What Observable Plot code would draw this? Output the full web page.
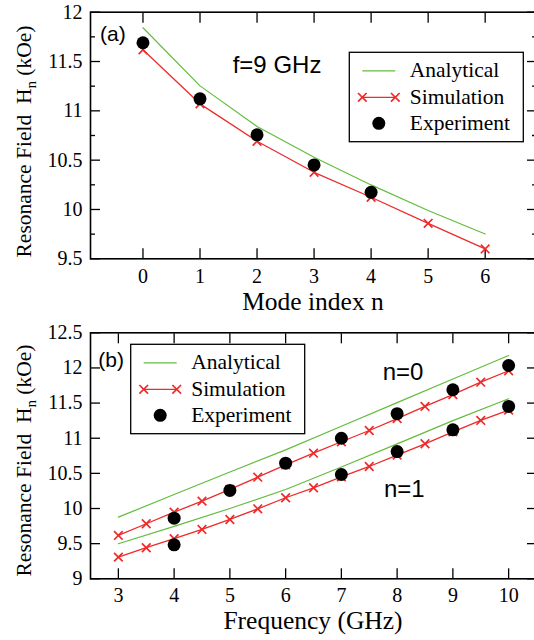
<!DOCTYPE html>
<html>
<head>
<meta charset="utf-8">
<script src="https://cdn.jsdelivr.net/npm/d3@7"></script>
<script src="https://cdn.jsdelivr.net/npm/@observablehq/plot@0.6"></script>
<style>
  html, body { margin: 0; padding: 0; background: #fff; overflow: hidden; }
  #chart { width: 534px; height: 640px; overflow: hidden; }
  #chart svg { display: block; }
</style>
</head>
<body>
<div id="chart"></div>
<script>
// ---- Panel (a): resonance field vs. mode index at f = 9 GHz ----
const modeIndex = [0, 1, 2, 3, 4, 5, 6];
const analyticalA = [11.842, 11.253, 10.841, 10.529, 10.249, 9.989, 9.752];
const simulationA = [11.619, 11.071, 10.692, 10.377, 10.124, 9.860, 9.600];
const experimentModes = [0, 1, 2, 3, 4];
const experimentA = [11.690, 11.122, 10.757, 10.452, 10.174];

// ---- Panel (b): resonance field vs. frequency for n = 0 and n = 1 ----
const freqAnalytical = [3, 4, 5, 6, 7, 8, 9, 10];
const analyticalN0 = [9.877, 10.199, 10.520, 10.834, 11.170, 11.507, 11.842, 12.177];
const analyticalN1 = [9.498, 9.745, 10.000, 10.270, 10.590, 10.920, 11.250, 11.561];
const freqSimulation = [3, 3.5, 4, 4.5, 5, 5.5, 6, 6.5, 7, 7.5, 8, 8.5, 9, 9.5, 10];
const simulationN0 = [9.617, 9.783, 9.948, 10.105, 10.271, 10.446, 10.620, 10.787,
                      10.950, 11.110, 11.280, 11.452, 11.620, 11.797, 11.960];
const simulationN1 = [9.308, 9.442, 9.570, 9.702, 9.844, 9.996, 10.153, 10.295,
                      10.450, 10.598, 10.760, 10.921, 11.090, 11.253, 11.400];
const freqExpN0 = [4, 5, 6, 7, 8, 9, 10];
const experimentN0 = [9.863, 10.257, 10.645, 11.000, 11.350, 11.690, 12.035];
const freqExpN1 = [4, 7, 8, 9, 10];
const experimentN1 = [9.484, 10.484, 10.810, 11.120, 11.452];

// ---- Ticks and text ----
const modeTicks = [0, 1, 2, 3, 4, 5, 6];
const fieldTicksA = [9.5, 10, 10.5, 11, 11.5, 12];
const fieldMinorA = [9.75, 10.25, 10.75, 11.25, 11.75];
const freqTicks = [3, 4, 5, 6, 7, 8, 9, 10];
const fieldTicksB = [9, 9.5, 10, 10.5, 11, 11.5, 12, 12.5];
const seriesNames = ["Analytical", "Simulation", "Experiment"];
const yTitleParts = ["Resonance Field  H", "n", " (kOe)"];
const xTitleA = "Mode index n";
const xTitleB = "Frequency (GHz)";
const panelTags = ["(a)", "(b)"];
const freqNote = "f=9 GHz";
const modeNotes = ["n=0", "n=1"];

const GREEN = "#62bd3c";
const RED = "#ee2a2a";
const SERIF = "'Liberation Serif', 'Times New Roman', serif";
const SANS = "'Liberation Sans', Arial, sans-serif";
const X_R = 4;      // cross marker radius
const DOT_R = 6.5;  // experiment dot radius
const fmt = d3.format("~g");

const rowsA = modeIndex.map((n, i) => ({n, analytical: analyticalA[i], simulation: simulationA[i]}));
const expA = experimentModes.map((n, i) => ({n, field: experimentA[i]}));
const analyticalB = [
  ...freqAnalytical.map((f, i) => ({f, field: analyticalN0[i], mode: 0})),
  ...freqAnalytical.map((f, i) => ({f, field: analyticalN1[i], mode: 1}))
];
const simulationB = [
  ...freqSimulation.map((f, i) => ({f, field: simulationN0[i], mode: 0})),
  ...freqSimulation.map((f, i) => ({f, field: simulationN1[i], mode: 1}))
];
const experimentB = [
  ...freqExpN0.map((f, i) => ({f, field: experimentN0[i]})),
  ...freqExpN1.map((f, i) => ({f, field: experimentN1[i]}))
];

// Inward ticks on all four sides, labels on the left and bottom.
function boxAxes(xTicks, yMajor, yMinor, xPad) {
  const major = -10, minor = -5, sw = 1.3;
  const marks = [
    Plot.axisX(xTicks, {anchor: "bottom", tickSize: major, fill: "none", strokeWidth: sw, label: null}),
    Plot.axisX(xTicks, {anchor: "top", tickSize: major, fill: "none", strokeWidth: sw, label: null}),
    Plot.axisY(yMajor, {anchor: "left", tickSize: major, fill: "none", strokeWidth: sw, label: null}),
    Plot.axisY(yMajor, {anchor: "right", tickSize: major, fill: "none", strokeWidth: sw, label: null}),
    Plot.axisX(xTicks, {anchor: "bottom", tickSize: 0, tickPadding: xPad, tickFormat: fmt, label: null,
                        fontFamily: SERIF, fontSize: 20}),
    Plot.axisY(yMajor, {anchor: "left", tickSize: 0, tickPadding: 8, tickFormat: fmt, label: null,
                        fontFamily: SERIF, fontSize: 20})
  ];
  if (yMinor) {
    marks.push(
      Plot.axisY(yMinor, {anchor: "left", tickSize: minor, fill: "none", strokeWidth: sw, label: null}),
      Plot.axisY(yMinor, {anchor: "right", tickSize: minor, fill: "none", strokeWidth: sw, label: null})
    );
  }
  return marks;
}

// Free-standing text and legend drawn in frame-relative pixels.
function overlay(draw) {
  return (index, scales, values, dims) => {
    const g = d3.create("svg:g");
    draw(g, dims);
    return g.node();
  };
}

function addText(g, x, y, str, font, size, anchor = "start") {
  g.append("text").attr("x", x).attr("y", y)
    .style("font-family", font).style("font-size", size + "px")
    .attr("text-anchor", anchor).attr("fill", "black")
    .style("white-space", "pre").text(str);
}

function yTitle(g, x, y) {
  const t = g.append("text")
    .attr("transform", `translate(${x},${y}) rotate(-90)`)
    .attr("text-anchor", "middle")
    .style("font-family", SERIF).style("font-size", "21.5px").attr("fill", "black")
    .style("white-space", "pre");
  t.append("tspan").text(yTitleParts[0]);
  t.append("tspan").style("font-size", "15px").attr("dy", 5).text(yTitleParts[1]);
  t.append("tspan").attr("dy", -5).text(yTitleParts[2]);
}

function legendBox(g, x0, y0) {
  const w = 174, h = 89.4, rows = [18.5, 45, 71];
  const s1 = x0 + 13, s2 = x0 + 46, tx = x0 + 60.5;
  g.append("rect").attr("x", x0).attr("y", y0).attr("width", w).attr("height", h)
    .attr("fill", "white").attr("stroke", "black").attr("stroke-width", 1.3);
  g.append("line").attr("x1", s1).attr("x2", s2).attr("y1", y0 + rows[0]).attr("y2", y0 + rows[0])
    .attr("stroke", GREEN).attr("stroke-width", 1.2);
  g.append("line").attr("x1", s1).attr("x2", s2).attr("y1", y0 + rows[1]).attr("y2", y0 + rows[1])
    .attr("stroke", RED).attr("stroke-width", 1.3);
  const cross = d3.symbol(d3.symbolTimes, Math.PI * X_R * X_R)();
  for (const sx of [s1, s2]) {
    g.append("path").attr("d", cross).attr("transform", `translate(${sx},${y0 + rows[1]})`)
      .attr("fill", "none").attr("stroke", RED).attr("stroke-width", 1.7);
  }
  g.append("circle").attr("cx", (s1 + s2) / 2).attr("cy", y0 + rows[2]).attr("r", DOT_R).attr("fill", "black");
  seriesNames.forEach((name, i) => addText(g, tx, y0 + rows[i] + 6.5, name, SERIF, 21.5));
}

const baseStyle = {fontFamily: SERIF, fontSize: "20px", background: "white", color: "black", overflow: "visible"};

// ---- Panel (a) ----
const plotA = Plot.plot({
  width: 534, height: 318,
  marginLeft: 90, marginRight: -2, marginTop: 11.7, marginBottom: 59.7,
  style: baseStyle,
  x: {domain: [-0.92, 6.9]},
  y: {domain: [9.5, 12]},
  marks: [
    ...boxAxes(modeTicks, fieldTicksA, fieldMinorA, 10),
    Plot.line(rowsA, {x: "n", y: "analytical", stroke: GREEN, strokeWidth: 1.2}),
    Plot.line(rowsA, {x: "n", y: "simulation", stroke: RED, strokeWidth: 1.3}),
    Plot.dot(rowsA, {x: "n", y: "simulation", symbol: "times", r: X_R, stroke: RED, strokeWidth: 1.7}),
    Plot.dot(expA, {x: "n", y: "field", r: DOT_R, fill: "black"}),
    Plot.frame({stroke: "black", strokeWidth: 1.6}),
    overlay((g, d) => {
      const left = d.marginLeft, top = d.marginTop, right = d.width - d.marginRight;
      const bottom = d.height - d.marginBottom;
      addText(g, left + 10, top + 29, panelTags[0], SANS, 21);
      addText(g, left + 142.7, top + 61.6, freqNote, SANS, 24);
      legendBox(g, right - 12.7 - 174, top + 40.6);
      yTitle(g, 31, top + 129.8);
      addText(g, (left + right) / 2, bottom + 51.5, xTitleA, SERIF, 25.5, "middle");
    })
  ]
});

// ---- Panel (b) ----
const plotB = Plot.plot({
  width: 534, height: 322,
  marginLeft: 90, marginRight: -2, marginTop: 14.3, marginBottom: 61.7,
  style: baseStyle,
  x: {domain: [2.5, 10.5]},
  y: {domain: [9, 12.5]},
  marks: [
    ...boxAxes(freqTicks, fieldTicksB, null, 9),
    Plot.line(analyticalB, {x: "f", y: "field", z: "mode", stroke: GREEN, strokeWidth: 1.2}),
    Plot.line(simulationB, {x: "f", y: "field", z: "mode", stroke: RED, strokeWidth: 1.3}),
    Plot.dot(simulationB, {x: "f", y: "field", symbol: "times", r: X_R, stroke: RED, strokeWidth: 1.7}),
    Plot.dot(experimentB, {x: "f", y: "field", r: DOT_R, fill: "black"}),
    Plot.frame({stroke: "black", strokeWidth: 1.6}),
    overlay((g, d) => {
      const left = d.marginLeft, top = d.marginTop, right = d.width - d.marginRight;
      const bottom = d.height - d.marginBottom;
      addText(g, left + 8.3, top + 34.4, panelTags[1], SANS, 21);
      addText(g, left + 292.7, top + 47.7, modeNotes[0], SANS, 24);
      addText(g, left + 294, top + 164.7, modeNotes[1], SANS, 24);
      legendBox(g, left + 40.7, top + 12);
      yTitle(g, 31, top + 128.2);
      addText(g, (left + right) / 2, bottom + 50.2, xTitleB, SERIF, 25.5, "middle");
    })
  ]
});

const chart = document.getElementById("chart");
chart.append(plotA, plotB);
</script>
</body>
</html>
